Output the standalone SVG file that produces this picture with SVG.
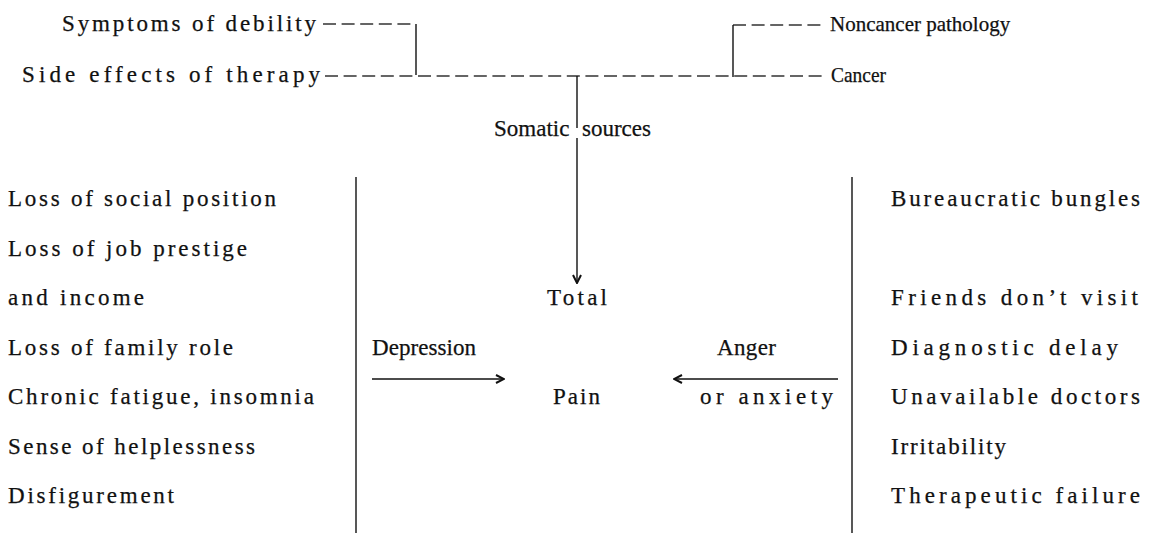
<svg xmlns="http://www.w3.org/2000/svg" width="1151" height="533" viewBox="0 0 1151 533">
<style>
text{font-family:'Liberation Serif','DejaVu Serif',serif;font-size:23px;fill:#111;stroke:#111;stroke-width:0.25}
.t{font-size:21px}
.dash{stroke:#333;stroke-width:1.3;stroke-dasharray:13 5.6;fill:none}
.solid{stroke:#111;stroke-width:1.4;fill:none}
</style>
<defs>
<marker id="ah" viewBox="0 0 10 10" refX="9" refY="5" markerWidth="10" markerHeight="10" markerUnits="userSpaceOnUse" orient="auto">
<path d="M1,1 L9,5 L1,9" fill="none" stroke="#111" stroke-width="2"/>
</marker>
</defs>
<g id="connectors">
<path class="dash" d="M323,24 H416"/>
<path class="solid" d="M416,24 V75"/>
<path class="dash" d="M325,76 H822"/>
<path class="dash" d="M733,25 H822"/>
<path class="solid" d="M733,25 V77"/>
<path class="solid" d="M577,76 V128"/>
<path class="solid" d="M577,138 V283" marker-end="url(#ah)"/>
<path class="solid" d="M372,379 H504" marker-end="url(#ah)"/>
<path class="solid" d="M838,379 H674" marker-end="url(#ah)"/>
<path class="solid" d="M356,177 V533"/>
<path class="solid" d="M852,177 V533"/>
</g>
<g font-family="'Liberation Serif','DejaVu Serif',serif">
<g id="n-symptoms"><text x="62" y="31" textLength="254" lengthAdjust="spacing">Symptoms of debility</text></g>
<g id="n-side"><text x="22" y="82" textLength="298" lengthAdjust="spacing">Side effects of therapy</text></g>
<g id="n-noncancer"><text class="t" x="830" y="31">Noncancer pathology</text></g>
<g id="n-cancer"><text class="t" x="831" y="82" textLength="55" lengthAdjust="spacingAndGlyphs">Cancer</text></g>
<g id="n-somatic"><text y="136" font-size="22"><tspan x="494">Somatic</tspan> <tspan x="582">sources</tspan></text></g>
<g id="n-total"><text x="547" y="305" textLength="60" lengthAdjust="spacing">Total</text></g>
<g id="n-pain"><text x="553" y="404" textLength="47" lengthAdjust="spacing">Pain</text></g>
<g id="n-depression"><text x="372" y="354.5" textLength="104" lengthAdjust="spacing">Depression</text></g>
<g id="n-anger"><text x="717" y="354.5" textLength="59" lengthAdjust="spacing">Anger</text></g>
<g id="n-anxiety"><text x="700" y="404" textLength="133" lengthAdjust="spacing">or anxiety</text></g>
<g id="left-list">
<text x="8" y="206" textLength="268" lengthAdjust="spacing">Loss of social position</text>
<text x="8" y="255.5" textLength="239" lengthAdjust="spacing">Loss of job prestige</text>
<text x="8" y="305" textLength="136" lengthAdjust="spacing">and income</text>
<text x="8" y="354.5" textLength="225" lengthAdjust="spacing">Loss of family role</text>
<text x="8" y="404" textLength="306" lengthAdjust="spacing">Chronic fatigue, insomnia</text>
<text x="8" y="453.5" textLength="247" lengthAdjust="spacing">Sense of helplessness</text>
<text x="8" y="503" textLength="166" lengthAdjust="spacing">Disfigurement</text>
</g>
<g id="right-list">
<text x="891" y="206" textLength="249" lengthAdjust="spacing">Bureaucratic bungles</text>
<text x="891" y="305" textLength="247" lengthAdjust="spacing">Friends don’t visit</text>
<text x="891" y="354.5" textLength="227" lengthAdjust="spacing">Diagnostic delay</text>
<text x="891" y="404" textLength="249" lengthAdjust="spacing">Unavailable doctors</text>
<text x="891" y="453.5" textLength="115" lengthAdjust="spacing">Irritability</text>
<text x="891" y="503" textLength="249" lengthAdjust="spacing">Therapeutic failure</text>
</g>
</g>
</svg>
